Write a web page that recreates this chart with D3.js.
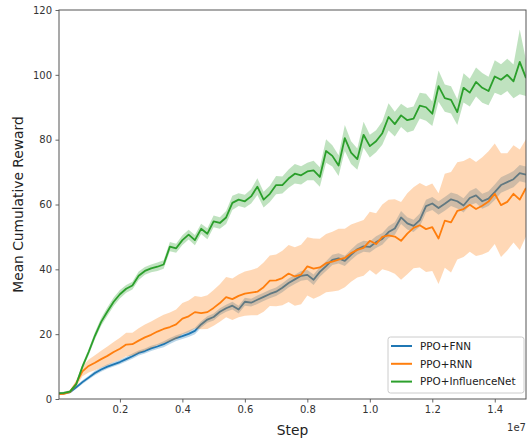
<!DOCTYPE html>
<html>
<head>
<meta charset="utf-8">
<script src="https://cdn.jsdelivr.net/npm/d3@7"></script>
<style>
  html, body { margin: 0; padding: 0; background: #fff; }
  svg { display: block; font-family: "DejaVu Sans", sans-serif; }
</style>
</head>
<body>
<svg id="chart" width="532" height="440"></svg>
<script>
// Steps (in units of 1e7)
const steps = [0.005,0.02,0.04,0.06,0.08,0.10,0.12,0.14,0.16,0.18,
  0.20,0.22,0.24,0.26,0.28,0.30,0.32,0.34,0.36,0.38,
  0.40,0.42,0.44,0.46,0.48,0.50,0.52,0.54,0.56,0.58,
  0.60,0.62,0.64,0.66,0.68,0.70,0.72,0.74,0.76,0.78,
  0.80,0.82,0.84,0.86,0.88,0.90,0.92,0.94,0.96,0.98,
  1.00,1.02,1.04,1.06,1.08,1.10,1.12,1.14,1.16,1.18,
  1.20,1.22,1.24,1.26,1.28,1.30,1.32,1.34,1.36,1.38,
  1.40,1.42,1.44,1.46,1.48,1.50];

const seriesNames = ["PPO+FNN", "PPO+RNN", "PPO+InfluenceNet"];
const seriesColors = ["#1f77b4", "#ff7f0e", "#2ca02c"];

const fnnMean = [1.6,1.7,2.1,3.6,5.2,6.6,8.0,9.1,10.0,10.7,
  11.4,12.3,13.2,14.2,14.8,15.6,16.2,16.9,17.9,18.8,
  19.4,20.1,21.0,23.0,24.5,25.3,26.9,28.0,28.8,27.6,
  30.0,29.7,30.6,31.5,32.4,33.1,34.3,35.8,36.9,38.0,
  38.3,36.8,39.2,41.0,42.9,43.4,42.6,44.5,46.2,47.1,
  46.9,48.4,49.4,51.5,52.6,56.0,54.2,53.4,55.2,59.5,
  60.3,58.9,60.2,61.6,61.0,59.7,62.0,62.8,61.0,61.8,
  63.8,66.0,66.9,67.8,69.7,69.2];
const fnnStd = [0.3,0.3,0.4,0.5,0.6,0.6,0.7,0.7,0.7,0.7,
  0.7,0.7,0.8,0.8,0.8,0.8,0.8,0.9,0.9,0.9,
  0.9,1.0,1.0,1.0,1.0,1.1,1.1,1.1,1.2,1.2,
  1.2,1.2,1.3,1.3,1.3,1.3,1.4,1.4,1.4,1.5,
  1.5,1.6,1.5,1.5,1.6,1.6,1.6,1.6,1.7,1.7,
  1.7,1.8,1.8,1.8,1.9,2.0,1.9,1.9,2.0,2.0,
  2.0,2.1,2.1,2.1,2.2,2.2,2.2,2.3,2.3,2.3,
  2.4,2.4,2.4,2.5,2.5,2.5];

const rnnMean = [1.5,1.6,2.2,4.8,8.5,10.2,11.2,12.3,13.3,14.5,
  15.5,16.8,16.9,18.0,19.0,19.8,20.8,21.6,22.2,23.0,
  24.8,25.5,26.8,26.5,26.8,28.1,29.6,31.4,30.8,31.8,
  32.5,32.8,33.1,34.5,36.5,36.6,37.3,38.7,37.8,38.4,
  40.9,40.2,40.6,41.9,42.4,43.0,43.5,45.0,46.0,46.6,
  48.8,47.8,50.0,50.5,50.1,48.8,51.0,52.8,53.6,52.4,
  53.0,49.5,55.0,54.5,58.0,58.6,59.9,58.6,59.6,60.9,
  63.3,59.8,60.8,63.3,61.5,65.1];
const rnnStd = [0.3,0.3,0.5,1.0,1.5,2.0,2.3,2.6,2.9,3.1,
  3.4,3.6,3.5,3.8,4.0,4.1,4.2,4.4,4.5,4.6,
  4.8,4.9,5.0,5.0,5.2,5.5,5.8,6.2,6.4,6.6,
  6.8,7.0,7.3,7.6,7.8,8.0,8.4,8.8,9.0,9.2,
  9.0,9.3,8.8,9.0,9.2,9.5,9.0,8.8,8.5,8.6,
  9.0,9.5,10.0,11.0,11.5,12.0,12.5,12.5,13.0,13.2,
  13.5,14.0,14.5,15.5,15.0,14.8,14.5,14.5,15.0,15.5,
  15.5,16.0,15.0,15.0,15.5,15.0];

const infMean = [1.8,1.9,2.3,4.5,10.0,14.5,19.5,23.8,27.0,30.0,
  32.3,34.0,35.0,38.0,39.5,40.3,40.8,41.5,47.0,46.5,
  49.0,50.7,49.0,52.5,51.0,54.8,54.3,56.0,60.5,61.5,
  61.0,62.5,65.5,61.5,63.3,66.0,66.0,68.0,69.5,69.0,
  70.2,70.5,68.5,76.5,75.0,72.0,80.5,76.0,74.0,81.5,
  78.0,79.5,82.0,87.0,84.8,87.5,86.0,86.5,90.5,90.0,
  88.0,96.5,92.8,92.3,88.5,96.0,94.5,97.8,96.0,95.0,
  99.5,98.5,100.0,98.0,104.0,99.0];
const infStd = [0.3,0.3,0.4,0.6,0.8,1.0,1.1,1.2,1.3,1.3,
  1.3,1.2,1.2,1.3,1.2,1.2,1.3,1.3,1.4,1.4,
  1.5,1.5,1.6,1.6,1.7,1.8,1.8,2.0,2.2,2.0,
  2.0,2.2,2.6,2.4,2.5,2.8,2.6,2.8,3.0,2.8,
  2.7,3.0,3.0,3.6,3.3,3.2,4.0,3.5,3.3,4.0,
  3.5,3.4,3.6,4.2,3.8,3.6,3.8,3.7,4.0,4.2,
  3.8,4.8,4.2,4.2,4.0,4.5,4.3,4.5,4.6,4.4,
  5.0,4.8,5.0,5.2,10.0,5.5];

const xTicks = [0.2,0.4,0.6,0.8,1.0,1.2,1.4];
const yTicks = [0,20,40,60,80,100,120];

const means = [fnnMean, rnnMean, infMean];
const stds = [fnnStd, rnnStd, infStd];

const svg = d3.select("#chart");
const pLeft = 59, pRight = 526, pTop = 10, pBottom = 399;

const x = d3.scaleLinear().domain([0.005, 1.5]).range([pLeft, pRight]);
const y = d3.scaleLinear().domain([0, 120]).range([pBottom, pTop]);

svg.append("defs").append("clipPath").attr("id", "clip")
  .append("rect").attr("x", pLeft).attr("y", pTop)
  .attr("width", pRight - pLeft).attr("height", pBottom - pTop);

const plot = svg.append("g").attr("clip-path", "url(#clip)");

means.forEach((m, si) => {
  const data = steps.map((s, i) => ({ x: s, v: m[i], sd: stds[si][i] }));
  const line = d3.line().x(d => x(d.x)).y(d => y(d.v));
  const area = d3.area().x(d => x(d.x)).y0(d => y(d.v - d.sd)).y1(d => y(d.v + d.sd));
  plot.append("path").datum(data).attr("d", line)
    .attr("fill", "none").attr("stroke", seriesColors[si])
    .attr("stroke-width", 1.8).attr("stroke-linejoin", "round");
  plot.append("path").datum(data).attr("d", area)
    .attr("fill", seriesColors[si]).attr("fill-opacity", 0.3).attr("stroke", "none");
});

// Axes
const xAxis = d3.axisBottom(x).tickValues(xTicks).tickFormat(d3.format(".1f"))
  .tickSizeInner(3.5).tickSizeOuter(0).tickPadding(3.5);
const yAxis = d3.axisLeft(y).tickValues(yTicks).tickFormat(d3.format("d"))
  .tickSizeInner(3.5).tickSizeOuter(0).tickPadding(3.5);

const gx = svg.append("g").attr("transform", `translate(0,${pBottom})`).call(xAxis);
const gy = svg.append("g").attr("transform", `translate(${pLeft},0)`).call(yAxis);
[gx, gy].forEach(g => {
  g.select(".domain").remove();
  g.selectAll(".tick line").attr("stroke", "#555").attr("stroke-width", 0.9);
  g.selectAll(".tick text").attr("fill", "#333").attr("font-size", 10)
    .attr("font-family", "DejaVu Sans, sans-serif");
});

// Frame
svg.append("rect").attr("x", pLeft).attr("y", pTop)
  .attr("width", pRight - pLeft).attr("height", pBottom - pTop)
  .attr("fill", "none").attr("stroke", "#555").attr("stroke-width", 1);

// Axis labels
svg.append("text").attr("x", (pLeft + pRight) / 2).attr("y", 435)
  .attr("text-anchor", "middle").attr("font-size", 13.8).attr("fill", "#222")
  .text("Step");
svg.append("text").attr("x", pRight).attr("y", 431)
  .attr("text-anchor", "end").attr("font-size", 10).attr("fill", "#333")
  .text("1e7");
svg.append("text")
  .attr("transform", `translate(23,${(pTop + pBottom) / 2}) rotate(-90)`)
  .attr("text-anchor", "middle").attr("font-size", 13.8).attr("fill", "#222")
  .text("Mean Cumulative Reward");

// Legend
const lg = svg.append("g");
lg.append("rect").attr("x", 388).attr("y", 337).attr("width", 136).attr("height", 56)
  .attr("rx", 2.5).attr("fill", "#fff").attr("fill-opacity", 0.8)
  .attr("stroke", "#ccc").attr("stroke-width", 1);
seriesNames.forEach((name, i) => {
  const cy = 346 + i * 17.8;
  lg.append("line").attr("x1", 391).attr("x2", 412).attr("y1", cy).attr("y2", cy)
    .attr("stroke", seriesColors[i]).attr("stroke-width", 2);
  lg.append("text").attr("x", 420).attr("y", cy + 3.8).attr("font-size", 10.4)
    .attr("fill", "#222").text(name);
});
</script>
</body>
</html>
